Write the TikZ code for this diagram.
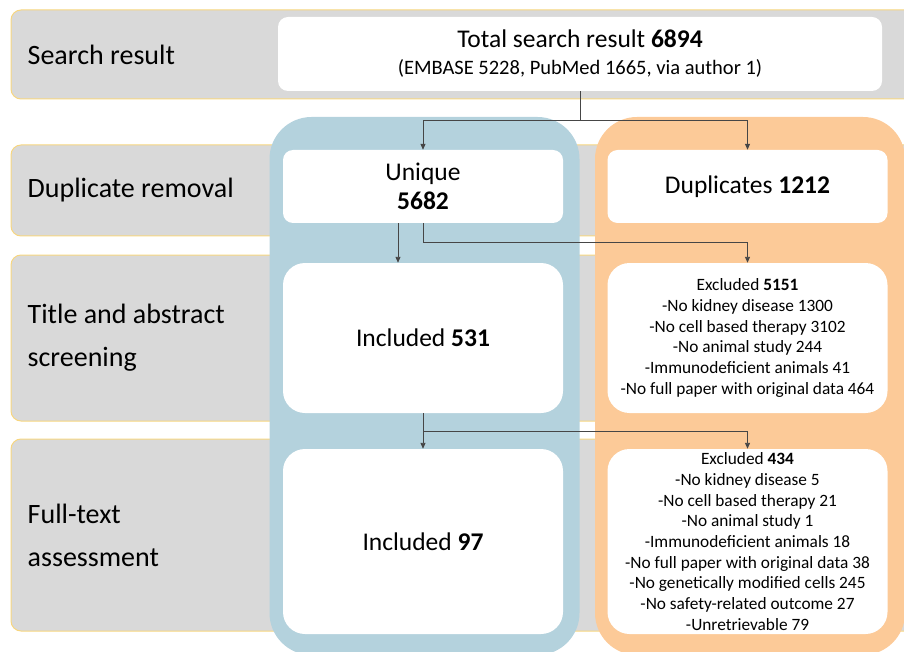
\documentclass[tikz,border=0pt]{standalone}
\usepackage{fontspec}
\setmainfont{Carlito}
\usepackage{xcolor}
\usepackage{tikz}
\usetikzlibrary{positioning, arrows.meta, calc}

\definecolor{stagegrey}{RGB}{217,217,217}
\definecolor{stagegold}{RGB}{247,214,128}
\definecolor{keepblue}{RGB}{180,210,221}
\definecolor{droporange}{RGB}{252,202,152}
\definecolor{linegrey}{RGB}{70,70,70}

\begin{document}
\begin{tikzpicture}[
  x=1pt, y=-1pt,
  >={Triangle[length=6pt, width=5pt]},
  stage/.style={draw=stagegold, fill=stagegrey, line width=1pt, rounded corners=10pt,
                minimum width=910pt, inner sep=0pt},
  stagelabel/.style={anchor=west, align=left, inner sep=0pt,
                     font=\fontsize{28}{43}\selectfont},
  lane/.style={rounded corners=42pt, minimum width=310pt, minimum height=538pt, inner sep=0pt},
  box/.style={fill=white, rounded corners=10pt, inner sep=0pt, align=center,
              minimum width=280pt, font=\fontsize{25.5}{29}\selectfont},
  bigbox/.style={box, rounded corners=22pt},
  list/.style={bigbox, font=\fontsize{17.3}{20.7}\selectfont},
  flow/.style={draw=linegrey, line width=0.9pt},
]
  \useasboundingbox (0,0) rectangle (904,652);
  \clip (0,0) rectangle (904,652);

  % stages (grey bands)
  \node[stage, minimum height=89pt] (stage1) at (466,54.5) {};
  \node[stage, minimum height=91pt] (stage2) at (466,190.5) {};
  \node[stage, minimum height=166pt] (stage3) at (466,338) {};
  \node[stage, minimum height=192pt] (stage4) at (466,535) {};
  \node[stagelabel, right=17pt of stage1.west] (lab1) {Search result};
  \node[stagelabel, right=17pt of stage2.west] (lab2) {Duplicate removal};
  \node[stagelabel, right=17pt of stage3.west] (lab3) {Title and abstract\\screening};
  \node[stagelabel, right=17pt of stage4.west] (lab4) {Full-text\\assessment};

  % lanes
  \node[lane, fill=keepblue] (keep) at (424.5,386) {};
  \node[lane, fill=droporange] (drop) at (750,386) {};

  % search result
  \node[box, minimum width=604pt, minimum height=74pt] (total) at (580,54)
    {Total search result \textbf{6894}\\[-2pt]{\fontsize{20.5}{24}\selectfont (EMBASE 5228, PubMed 1665, via author 1)}};

  % included column
  \node[box, minimum height=73pt] (unique) at (423,186.5) {Unique\\\textbf{5682}};
  \node[bigbox, minimum height=150pt] (incl1) at (423,338) {Included \textbf{531}};
  \node[bigbox, minimum height=185pt] (incl2) at (423,541.5) {Included \textbf{97}};

  % excluded column
  \node[box, minimum height=73pt] (dup) at (747.5,186.5) {Duplicates \textbf{1212}};
  \node[list, minimum height=150pt] (excl1) at (747.5,338)
    {Excluded \textbf{5151}\\-No kidney disease 1300\\-No cell based therapy 3102\\
     -No animal study 244\\-Immunodeficient animals 41\\-No full paper with original data 464};
  \node[list, minimum height=185pt] (excl2) at (747.5,541.5)
    {Excluded \textbf{434}\\-No kidney disease 5\\-No cell based therapy 21\\-No animal study 1\\
     -Immunodeficient animals 18\\-No full paper with original data 38\\
     -No genetically modified cells 245\\-No safety-related outcome 27\\-Unretrievable 79};

  % connectors
  \draw[flow] (total.south) -- ++(0,29) coordinate (split1);
  \draw[flow, ->] (split1) -| (unique.north);
  \draw[flow, ->] (split1) -| (dup.north);
  \draw[flow, ->] ([xshift=-25pt]unique.south) -- ([xshift=-25pt]incl1.north);
  \draw[flow] (unique.south) -- ++(0,19) coordinate (split2);
  \draw[flow, ->] (split2) -| (excl1.north);
  \draw[flow, ->] (incl1.south) -- (incl2.north);
  \coordinate (split3) at ($(incl1.south)+(0,18)$);
  \draw[flow, ->] (split3) -| (excl2.north);
\end{tikzpicture}
\end{document}
